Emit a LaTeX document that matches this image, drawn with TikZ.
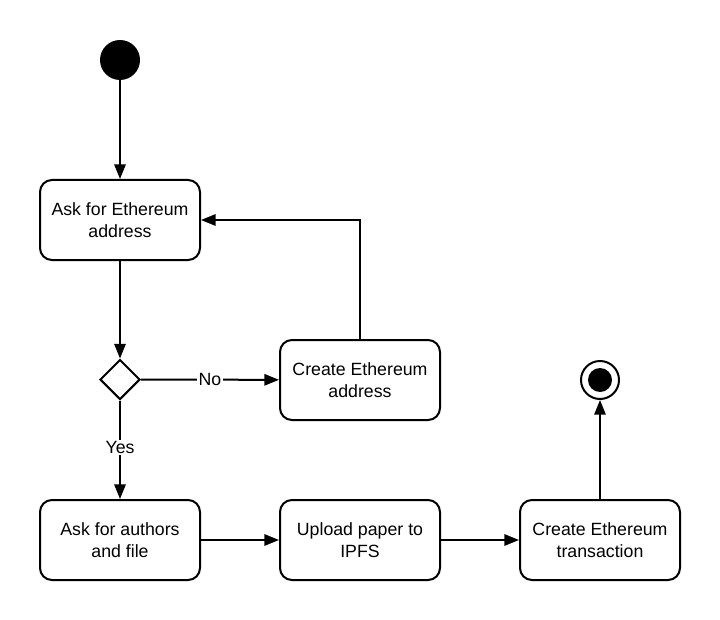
\documentclass[tikz,border=0pt]{standalone}
\usepackage{fontspec}
\setmainfont{Liberation Sans}
\usetikzlibrary{arrows.meta,shapes.geometric}
\begin{document}
\begin{tikzpicture}[x=0.75pt,y=-0.75pt,
  every node/.style={font=\fontsize{13.3}{16}\selectfont},
  act/.style={draw,line width=1.5pt,rounded corners=9pt,minimum width=120pt,minimum height=60pt,align=center,inner sep=0pt},
  conn/.style={line width=1.5pt,-{Triangle[length=11pt,width=8.5pt]}},
  lbl/.style={fill=white,inner sep=1pt}]
\useasboundingbox (0,0) rectangle (720,620);
\node[circle,fill=black,minimum size=30pt,inner sep=0pt] (start) at (120,60) {};
\node[act] (ask) at (120,220) {Ask for Ethereum\\address};
\node[diamond,draw,line width=1.5pt,minimum width=30pt,minimum height=30pt,inner sep=0pt] (dec) at (120,379.5) {};
\node[act] (create) at (360,380) {Create Ethereum\\address};
\node[act] (authors) at (120,540) {Ask for authors\\and file};
\node[act] (upload) at (360,540) {Upload paper to\\IPFS};
\node[act] (tx) at (600,540) {Create Ethereum\\transaction};
\node[circle,draw,line width=1.5pt,minimum size=28.5pt,inner sep=0pt] (end) at (600,380) {};
\node[circle,fill=black,minimum size=18pt,inner sep=0pt] (endin) at (600,380) {};
\draw[conn] (start) -- (ask);
\draw[conn] (ask) -- (dec);
\draw[conn] (dec) -- node[lbl]{No} (create);
\draw[conn] (dec) -- node[lbl,pos=0.48]{Yes} (authors);
\draw[conn] (create.north) |- (ask.east);
\draw[conn] (authors) -- (upload);
\draw[conn] (upload) -- (tx);
\draw[conn] (tx) -- (end);
\end{tikzpicture}
\end{document}
